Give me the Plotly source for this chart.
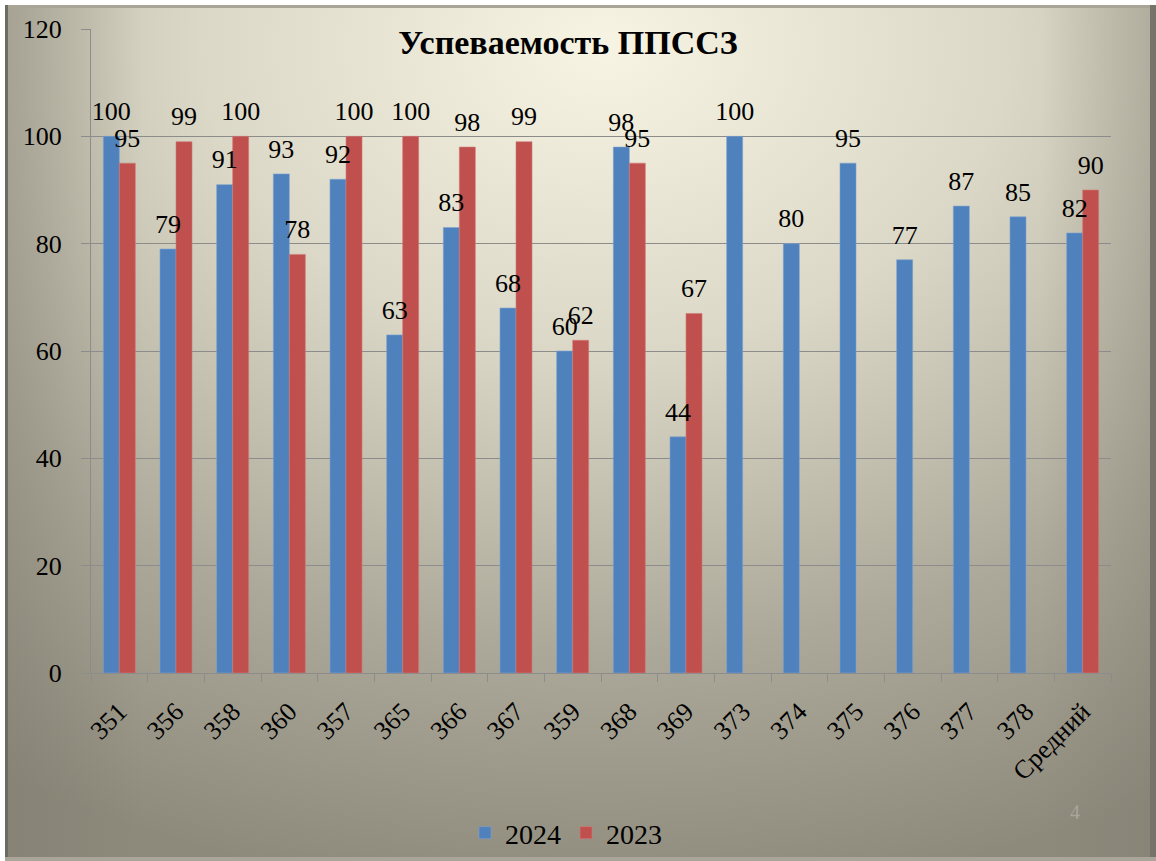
import base64
import plotly.graph_objects as go

categories = ["351", "356", "358", "360", "357", "365", "366", "367", "359", "368",
              "369", "373", "374", "375", "376", "377", "378", "Средний"]
values_2024 = [100, 79, 91, 93, 92, 63, 83, 68, 60, 98, 44, 100, 80, 95, 77, 87, 85, 82]
values_2023 = [95, 99, 100, 78, 100, 100, 98, 99, 62, 95, 67, None, None, None, None, None, None, 90]
y_ticks = [0, 20, 40, 60, 80, 100, 120]

W, H = 1156, 861
L, R, T, B = 91, 45, 29, 188
pw, ph = W - L - R, H - T - B
GAP = 0.435

FONT = "Liberation Serif"

svg = f'''<svg xmlns="http://www.w3.org/2000/svg" width="{W}" height="{H}" viewBox="0 0 {W} {H}" preserveAspectRatio="none">
<defs>
<radialGradient id="g" cx="0.52" cy="0.05" r="1.0" fx="0.52" fy="0.05">
<stop offset="0" stop-color="#F7F4E4"/>
<stop offset="0.35" stop-color="#DCD8C7"/>
<stop offset="0.7" stop-color="#ADA99A"/>
<stop offset="1" stop-color="#8D897B"/>
</radialGradient>
<linearGradient id="lg" x1="0" y1="0" x2="1" y2="0">
<stop offset="0" stop-color="#7f7b6e" stop-opacity="0.45"/>
<stop offset="0.12" stop-color="#7f7b6e" stop-opacity="0"/>
<stop offset="0.9" stop-color="#7f7b6e" stop-opacity="0"/>
<stop offset="1" stop-color="#7f7b6e" stop-opacity="0.35"/>
</linearGradient>
</defs>
<rect x="0" y="0" width="{W}" height="{H}" fill="#ffffff"/>
<rect x="5" y="5" width="{W-5}" height="{H-5}" fill="url(#g)"/>
<rect x="5" y="5" width="{W-5}" height="{H-5}" fill="url(#lg)"/>
<rect x="5" y="5" width="{W-5}" height="3" fill="#a8a496"/>
<rect x="5" y="5" width="3" height="{H-5}" fill="#6e6b60"/>
<rect x="{W-6}" y="5" width="6" height="{H-5}" fill="#77736a"/>
<rect x="5" y="{H-4}" width="{W-5}" height="4" fill="#a9a598"/>
</svg>'''
bg_src = "data:image/svg+xml;base64," + base64.b64encode(svg.encode()).decode()

fig = go.Figure()
series = [("2024", values_2024, "#4F81BD", "#7EA3D0"),
          ("2023", values_2023, "#C0504D", "#D27B78")]
for name, vals, col, edge in series:
    fig.add_trace(go.Bar(
        x=categories, y=vals, name=name, offsetgroup=name,
        marker=dict(color=col, line=dict(color=edge, width=0.6)),
    ))
for name, vals, col, edge in series:
    fig.add_trace(go.Scatter(
        x=categories, y=vals, mode="markers+text", offsetgroup=name,
        text=[("" if v is None else str(v)) for v in vals],
        textposition="top center", showlegend=False, hoverinfo="skip",
        marker=dict(size=14, color="rgba(0,0,0,0)", line=dict(width=0)),
        cliponaxis=False,
        textfont=dict(family=FONT, size=26, color="#000000"),
    ))

fig.update_layout(
    width=W, height=H,
    margin=dict(l=L, r=R, t=T, b=B, autoexpand=False),
    paper_bgcolor="rgba(0,0,0,0)",
    plot_bgcolor="rgba(0,0,0,0)",
    barmode="group", bargap=GAP, bargroupgap=0,
    scattermode="group", scattergap=GAP,
    font=dict(family=FONT, size=26, color="#000000"),
    title=dict(text="<b>Успеваемость ППССЗ</b>", x=(568 - L) / pw, xref="paper",
               xanchor="center", y=1 - 42 / H, yref="container", yanchor="middle",
               font=dict(family=FONT, size=34, color="#000000")),
    xaxis=dict(type="category", tickangle=-45, tickson="boundaries",
               ticks="outside", ticklen=8, tickcolor="#8c8c8c",
               showline=True, linecolor="#8c8c8c", linewidth=1,
               showgrid=False, automargin=False, ticklabelstandoff=12,
               tickfont=dict(family=FONT, size=26, color="#000000")),
    yaxis=dict(range=[0, 120], tickvals=y_ticks, ticks="outside", ticklen=9,
               tickcolor="#8c8c8c", showline=True, linecolor="#8c8c8c", linewidth=1,
               showgrid=True, gridcolor="#8c8c8c", gridwidth=1, zeroline=False,
               ticklabelstandoff=14, automargin=False,
               tickfont=dict(family=FONT, size=26, color="#000000")),
    legend=dict(orientation="h", x=(566 - L) / pw, xanchor="center",
                y=(H - B - 833) / ph, yanchor="middle",
                font=dict(family=FONT, size=28, color="#000000"),
                bgcolor="rgba(0,0,0,0)", itemwidth=30, tracegroupgap=0),
    images=[dict(source=bg_src, xref="paper", yref="paper",
                 x=-L / pw, y=(H - B) / ph, sizex=W / pw, sizey=H / ph,
                 xanchor="left", yanchor="top", sizing="stretch", layer="below")],
    annotations=[dict(text="4", x=(1082 - L) / pw, y=(H - B - 825) / ph,
                      xref="paper", yref="paper", showarrow=False,
                      font=dict(family=FONT, size=20, color="#aaa699"))],
)

fig.write_html("out.html", config={"displayModeBar": False},
               post_script="document.body.style.margin='0';document.body.style.overflow='hidden';")
